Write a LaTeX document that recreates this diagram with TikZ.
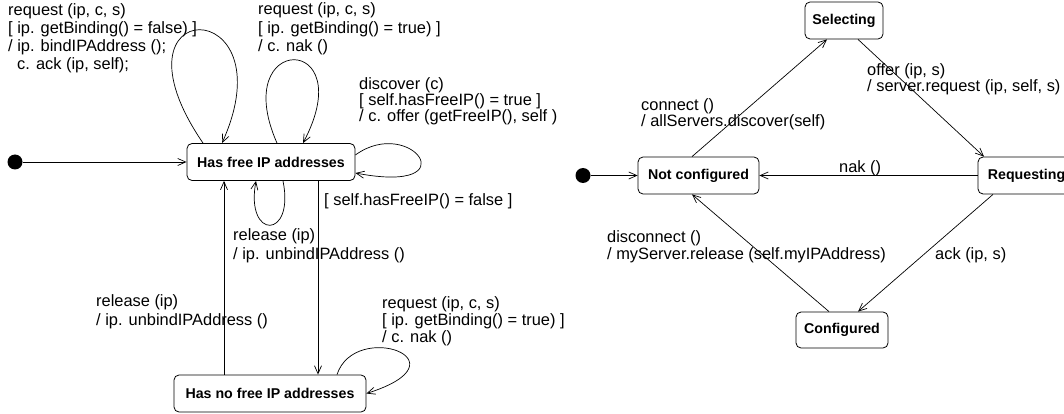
\documentclass[tikz,border=0pt]{standalone}
\usepackage{fontspec}
\setmainfont{Liberation Sans}
\usepackage{tikz}
\usetikzlibrary{arrows.meta}

\newcommand\lblfont[1]{\fontsize{16.4}{#1}\selectfont}

\begin{document}
\begin{tikzpicture}[x=1pt,y=-1pt,
		state/.style={draw,rounded corners=5pt,line width=0.8pt,inner sep=0pt,minimum height=37pt,font=\bfseries\fontsize{14.2}{16}\selectfont},
		init/.style={circle,fill,inner sep=0pt,minimum size=15pt},
		trans/.style={-{Straight Barb[length=8pt,width=7pt]},line width=0.7pt},
		lbl/.style={anchor=base west,inner sep=0pt,align=left,font=\lblfont{18.3}}
		]
		\useasboundingbox (0,0) rectangle (1064,414);
		% server side
		\node[init] (start1) at (15,162) {};
		\node[state,minimum width=168pt] (free) at (271,162) {Has free IP addresses};
		\node[state,minimum width=192pt] (nofree) at (270,393.5) {Has no free IP addresses};
		\coordinate (upa) at ([xshift=-47pt]free.south);
		\coordinate (dna) at ([xshift=47pt]free.south);
		\draw[trans] (start1)--(free);
		\draw[trans] ([xshift=-68pt]free.north) .. controls +(-103,-151) and +(68,-151) .. ([xshift=-49pt]free.north);
		\draw[trans] ([xshift=6pt]free.north) .. controls +(-49,-111) and +(59,-111) .. ([xshift=32pt]free.north);
		\draw[trans] ([yshift=7pt]free.east) .. controls +(55,-40) and +(115,22) .. ([yshift=-11pt]free.east);
		\draw[trans] ([xshift=12pt]free.south) .. controls +(12,59) and +(-11,59) .. ([xshift=-15pt]free.south);
		\draw[trans] (nofree.north -| upa)--(upa);
		\draw[trans] (dna)--(dna |- nofree.north);
		\draw[trans] ([xshift=67pt]nofree.north) .. controls +(18,-55) and +(104,-33) .. (nofree.east);
		% labels: anchor is the last line's baseline
		\node[lbl] (lreqa) at (8,70) {request (ip, c, s)\\{}[ ip. getBinding() = false) ]\\/ ip. bindIPAddress ();\\\hspace*{9pt}c. ack (ip, self);};
		\node[lbl] (lreqb) at (258,51.6) {request (ip, c, s)\\{}[ ip. getBinding() = true) ]\\/ c. nak ()};
		\node[lbl,font=\lblfont{16}] (ldisc) at (359,122) {discover (c)\\{}[ self.hasFreeIP() = true ]\\/ c. offer (getFreeIP(), self )};
		\node[lbl] (lfull) at (324,205) {[ self.hasFreeIP() = false ]};
		\node[lbl,font=\lblfont{19}] (lrela) at (233,259) {release (ip)\\/ ip. unbindIPAddress ()};
		\node[lbl,font=\lblfont{19}] (lrelb) at (96,325) {release (ip)\\/ ip. unbindIPAddress ()};
		\node[lbl,font=\lblfont{17}] (lreqc) at (382,342) {request (ip, c, s)\\{}[ ip. getBinding() = true) ]\\/ c. nak ()};
		% client side
		\node[init] (start2) at (583,175.5) {};
		\node[state,minimum width=121pt] (notconf) at (698.5,175.5) {Not configured};
		\node[state,minimum width=78pt] (sel) at (844,20.5) {Selecting};
		\node[state,minimum width=97pt] (req) at (1026.5,175.5) {Requesting};
		\node[state,minimum width=92pt,minimum height=36pt] (conf) at (842,330) {Configured};
		\draw[trans] (start2)--(notconf);
		\draw[trans] ([xshift=-6.5pt]notconf.north)--([xshift=-17pt]sel.south);
		\draw[trans] ([xshift=14pt]sel.south)--([xshift=-42.5pt]req.north);
		\draw[trans] (req.west)--(notconf.east);
		\draw[trans] ([xshift=-33.5pt]req.south)--([xshift=16pt]conf.north);
		\draw[trans] ([xshift=-13pt]conf.north)--([xshift=-6.5pt]notconf.south);
		\node[lbl,font=\lblfont{14.5}] (lconn) at (641,126.5) {connect ()\\/ allServers.discover(self)};
		\node[lbl,font=\lblfont{14.5}] (loffer) at (867,91.5) {offer (ip, s)\\/ server.request (ip, self, s)};
		\node[lbl] (lnak) at (839,172) {nak ()};
		\node[lbl,font=\lblfont{15}] (ldisconn) at (607,259) {disconnect ()\\/ myServer.release (self.myIPAddress)};
		\node[lbl] (lack) at (935,259) {ack (ip, s)};
	\end{tikzpicture}
\end{document}
